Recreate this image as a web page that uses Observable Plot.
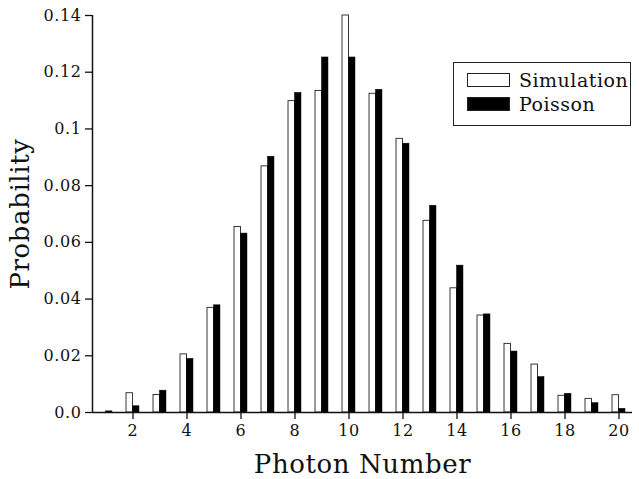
<!DOCTYPE html>
<html>
<head>
<meta charset="utf-8">
<script src="https://cdn.jsdelivr.net/npm/d3@7"></script>
<script src="https://cdn.jsdelivr.net/npm/@observablehq/plot@0.6"></script>
<style>
  html, body { margin: 0; padding: 0; background: #fff; }
  #wrap { position: relative; width: 639px; height: 479px; }
  #chart svg text { letter-spacing: 0.6px; }
  #legend {
    position: absolute; left: 453px; top: 62px; width: 176px; height: 62px;
    border: 1.5px solid #222; background: #fff;
    font-family: "DejaVu Serif", serif; font-size: 19px; letter-spacing: 0.5px; color: #111;
  }
  .row { position: absolute; left: 13px; display: flex; align-items: center; }
  .sw { width: 41px; height: 12px; border: 1px solid #222; margin-right: 9px; }
</style>
</head>
<body>
<div id="wrap">
  <div id="chart"></div>
  <div id="legend"></div>
</div>
<script>
const photonNumber = [1,2,3,4,5,6,7,8,9,10,11,12,13,14,15,16,17,18,19,20];
const simulation = [0, 0.0068, 0.0062, 0.0205, 0.0369, 0.0654, 0.0868, 0.1098, 0.1134, 0.1400, 0.1124, 0.0965, 0.0676, 0.0438, 0.0342, 0.0242, 0.0169, 0.0059, 0.0048, 0.0061];
const poisson = [0.0004, 0.0022, 0.0077, 0.0189, 0.0378, 0.0631, 0.0902, 0.1127, 0.1252, 0.1252, 0.1138, 0.0948, 0.0729, 0.0518, 0.0346, 0.0215, 0.0125, 0.0066, 0.0033, 0.0013];
const seriesNames = ["Simulation", "Poisson"];
const seriesFill = ["#fff", "#000"];
const xTicks = [2,4,6,8,10,12,14,16,18,20];
const yTicks = [0, 0.02, 0.04, 0.06, 0.08, 0.1, 0.12, 0.14];
const yTickLabels = ["0.0", "0.02", "0.04", "0.06", "0.08", "0.1", "0.12", "0.14"];
const xLabel = "Photon Number";
const yLabel = "Probability";

const barW = 0.24;
const simData = photonNumber.map((n, i) => ({n, v: simulation[i]}));
const poiData = photonNumber.map((n, i) => ({n, v: poisson[i]}));

const font = "'DejaVu Serif', serif";

const chart = Plot.plot({
  width: 639,
  height: 479,
  marginLeft: 92,
  marginRight: 7,
  marginTop: 15,
  marginBottom: 67,
  style: {fontFamily: font, background: "#fff", color: "#111"},
  x: {domain: [0.5, 20.5]},
  y: {domain: [0, 0.14]},
  marks: [
    Plot.rectY(simData, {x1: d => d.n - barW, x2: d => d.n, y1: 0, y2: "v", fill: seriesFill[0], stroke: "#222", strokeWidth: 0.9}),
    Plot.rectY(poiData, {x1: d => d.n, x2: d => d.n + barW, y1: 0, y2: "v", fill: seriesFill[1], stroke: "#000", strokeWidth: 0.5}),
    Plot.axisX({ticks: xTicks, tickSize: 7, tickPadding: 5, fontSize: 16, stroke: "#111", strokeWidth: 1.3, label: null}),
    Plot.axisY({ticks: yTicks, tickFormat: (d) => yTickLabels[yTicks.indexOf(d)], tickSize: 7, tickPadding: 4, fontSize: 16, stroke: "#111", strokeWidth: 1.3, label: null}),
    Plot.ruleY([0], {stroke: "#111", strokeWidth: 1.5}),
    Plot.ruleX([0.5], {stroke: "#111", strokeWidth: 1.5}),
    Plot.axisX({ticks: [], label: xLabel, labelAnchor: "center", labelArrow: "none", labelOffset: 60, fontSize: 26}),
    Plot.axisY({ticks: [], label: yLabel, labelAnchor: "center", labelArrow: "none", labelOffset: 82, fontSize: 26})
  ]
});
document.getElementById("chart").appendChild(chart);

const legend = document.getElementById("legend");
seriesNames.forEach((name, i) => {
  const row = document.createElement("div");
  row.className = "row";
  row.style.top = (i === 0 ? 6 : 30) + "px";
  const sw = document.createElement("div");
  sw.className = "sw";
  sw.style.background = seriesFill[i];
  const t = document.createElement("span");
  t.textContent = name;
  row.appendChild(sw);
  row.appendChild(t);
  legend.appendChild(row);
});
</script>
</body>
</html>
